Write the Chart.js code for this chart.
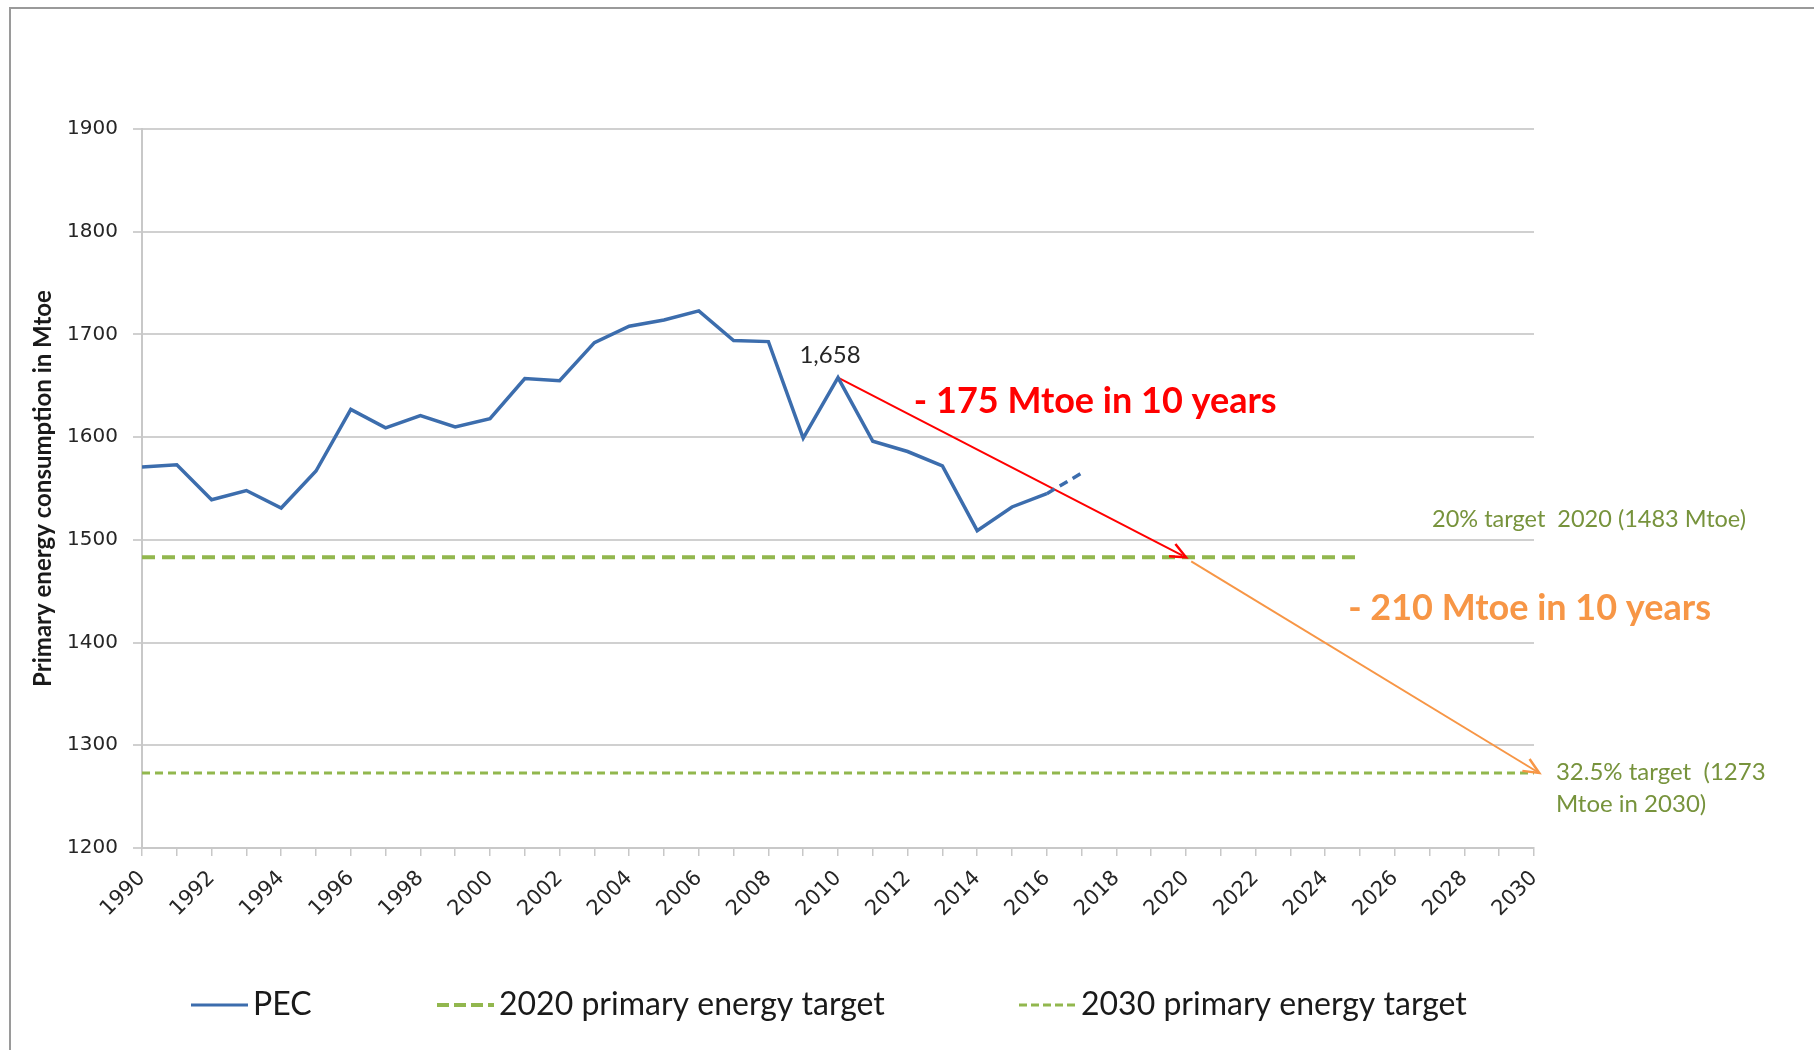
<!DOCTYPE html>
<html><head><meta charset="utf-8">
<script src="https://cdn.jsdelivr.net/npm/chart.js@4.4.1/dist/chart.umd.min.js"></script>
<style>
html,body{margin:0;padding:0;background:#fff;}
#wrap{position:relative;width:1814px;height:1050px;overflow:hidden;background:#fff;}
#frame{position:absolute;left:9px;top:7px;width:1820px;height:1060px;border-top:2px solid #9a9a9a;border-left:2px solid #9a9a9a;pointer-events:none;}
canvas{position:absolute;left:0;top:0;}
</style></head><body>
<div id="wrap"><canvas id="c" width="1814" height="1050"></canvas><div id="frame"></div></div>
<script>
// ---- data ----
const years = [1990,1991,1992,1993,1994,1995,1996,1997,1998,1999,2000,2001,2002,2003,2004,2005,2006,2007,2008,2009,2010,2011,2012,2013,2014,2015,2016,2017];
const pec   = [1571,1573,1539,1548,1531,1567,1627,1609,1621,1610,1618,1657,1655,1692,1708,1714,1723,1694,1693,1599,1658,1596,1586,1572,1509,1532,1545,1565];
const target2020Years = [1990, 2025];
const target2020 = [1483, 1483];
const target2030Years = [1990, 2030];
const target2030 = [1273, 1273];
const arrowRedYears = [2010, 2020];
const arrowRedValues = [1658, 1483];
const arrowOrangeYears = [2020.15, 2030.15];
const arrowOrangeValues = [1479, 1273];
const yTicks = [1200,1300,1400,1500,1600,1700,1800,1900];
const xLabelYears = [1990,1992,1994,1996,1998,2000,2002,2004,2006,2008,2010,2012,2014,2016,2018,2020,2022,2024,2026,2028,2030];
const labelYear = 2010;

const pts = (xs, ys) => xs.map((x, i) => ({x, y: ys[i]}));
const lastIdx = years.length - 1;

const notesPlugin = {
  id: 'notes',
  afterDatasetsDraw(chart, args, opts) {
    const ctx = chart.ctx, xs = chart.scales.x, ys = chart.scales.y;
    chart.data.datasets.forEach((ds, i) => {
      if (!ds.arrow) return;
      const d = chart.getDatasetMeta(i).data;
      const a = d[d.length - 2], b = d[d.length - 1];
      const ang = Math.atan2(b.y - a.y, b.x - a.x);
      const L = 17, W = 0.42;
      ctx.save();
      ctx.strokeStyle = ds.borderColor; ctx.lineWidth = ds.borderWidth + 0.5;
      ctx.beginPath();
      ctx.moveTo(b.x - L * Math.cos(ang - W), b.y - L * Math.sin(ang - W));
      ctx.lineTo(b.x, b.y);
      ctx.lineTo(b.x - L * Math.cos(ang + W), b.y - L * Math.sin(ang + W));
      ctx.stroke();
      ctx.restore();
    });
    const meta = chart.getDatasetMeta(0);
    const idx = years.indexOf(labelYear);
    const p = meta.data[idx];
    ctx.save();
    ctx.font = '24px Lato';
    ctx.fillStyle = '#262626';
    ctx.textAlign = 'center'; ctx.textBaseline = 'middle';
    ctx.fillText(pec[idx].toLocaleString('en-US'), p.x - 8, p.y - 22);
    ctx.restore();
    opts.items.forEach(it => {
      ctx.save();
      ctx.font = it.font; ctx.fillStyle = it.color;
      ctx.textAlign = 'left'; ctx.textBaseline = 'middle';
      ctx.fillText(it.text, xs.getPixelForValue(it.x), ys.getPixelForValue(it.y));
      ctx.restore();
    });
  },
  afterDraw(chart, args, opts) {
    const ctx = chart.ctx;
    const lg = opts.legend;
    lg.items.forEach(it => {
      const ds = chart.data.datasets[it.ds];
      ctx.save();
      ctx.strokeStyle = ds.borderColor;
      ctx.lineWidth = it.lw;
      ctx.setLineDash(it.dash || []);
      ctx.beginPath();
      ctx.moveTo(it.x, lg.y); ctx.lineTo(it.x + lg.len, lg.y);
      ctx.stroke();
      ctx.setLineDash([]);
      ctx.font = lg.font; ctx.fillStyle = '#1a1a1a';
      ctx.textAlign = 'left'; ctx.textBaseline = 'middle';
      ctx.fillText(ds.label, it.x + lg.len + 5, lg.y);
      ctx.restore();
    });
  }
};

new Chart(document.getElementById('c'), {
  type: 'line',
  data: {
    datasets: [
      { label: 'PEC', data: pts(years, pec), borderColor: '#3C6DAD', borderWidth: 3.5,
        pointRadius: 0, tension: 0,
        segment: { borderDash: c => c.p1DataIndex === lastIdx ? [9, 6] : undefined } },
      { label: '2020 primary energy target', data: pts(target2020Years, target2020), borderColor: '#92B74E',
        borderWidth: 4, borderDash: [13, 7], pointRadius: 0 },
      { label: '2030 primary energy target', data: pts(target2030Years, target2030), borderColor: '#92B74E',
        borderWidth: 3, borderDash: [8, 5], pointRadius: 0 },
      { label: 'arrow 2020', data: pts(arrowRedYears, arrowRedValues), borderColor: '#FF0000',
        borderWidth: 2, pointRadius: 0, arrow: true, clip: false },
      { label: 'arrow 2030', data: pts(arrowOrangeYears, arrowOrangeValues), borderColor: '#F79646',
        borderWidth: 2, pointRadius: 0, arrow: true, clip: false }
    ]
  },
  options: {
    responsive: false, animation: false, devicePixelRatio: 1,
    layout: { padding: { left: 20, right: 280, top: 129, bottom: 112 } },
    plugins: {
      legend: { display: false },
      tooltip: { enabled: false },
      notes: {
        items: [
          { text: '- 175 Mtoe in 10 years', x: 2012.18, y: 1634.8, font: 'bold 36px Lato', color: '#FF0000' },
          { text: '- 210 Mtoe in 10 years', x: 2024.66, y: 1433.6, font: 'bold 36px Lato', color: '#F79646' },
          { text: '20% target  2020 (1483 Mtoe)', x: 2027.07, y: 1520.3, font: '23.5px Lato', color: '#77933C' },
          { text: '32.5% target  (1273', x: 2030.63, y: 1274, font: '24px Lato', color: '#77933C' },
          { text: 'Mtoe in 2030)', x: 2030.63, y: 1242.8, font: '24px Lato', color: '#77933C' }
        ],
        legend: {
          y: 1005, len: 57, font: '32px Lato',
          items: [ { ds: 0, x: 191, lw: 3 }, { ds: 1, x: 437, lw: 4, dash: [12, 5] }, { ds: 2, x: 1019, lw: 3, dash: [8, 4] } ]
        }
      }
    },
    scales: {
      x: {
        type: 'linear', min: 1990, max: 2030,
        afterFit: s => { s.height = 90; },
        afterBuildTicks: s => { s.ticks = []; for (let v = 1990; v <= 2030; v++) s.ticks.push({ value: v }); },
        ticks: {
          autoSkip: false, minRotation: 45, maxRotation: 45, padding: 10,
          font: { family: 'DejaVu Sans', size: 21 }, color: '#262626',
          callback: v => xLabelYears.includes(v) ? String(v) : ''
        },
        grid: { drawOnChartArea: false, drawTicks: true, tickLength: 8, color: '#c8c8c8', lineWidth: 1.5 },
        border: { display: true, color: '#c8c8c8', width: 2 }
      },
      y: {
        type: 'linear', min: 1200, max: 1900,
        afterFit: s => { s.width = 122; },
        afterBuildTicks: s => { s.ticks = yTicks.map(v => ({ value: v })); },
        ticks: { padding: 15, font: { family: 'DejaVu Sans', size: 20 }, color: '#262626', callback: v => String(v) },
        grid: { color: '#d0d0d0', lineWidth: 2, tickLength: 9 },
        border: { display: true, color: '#c8c8c8', width: 2 },
        title: { display: true, text: 'Primary energy consumption in Mtoe', font: { family: 'Lato', size: 24, weight: 'bold' },
                 color: '#1a1a1a', padding: { top: 9, bottom: 0 } }
      }
    }
  },
  plugins: [notesPlugin]
});
</script>
</body></html>
